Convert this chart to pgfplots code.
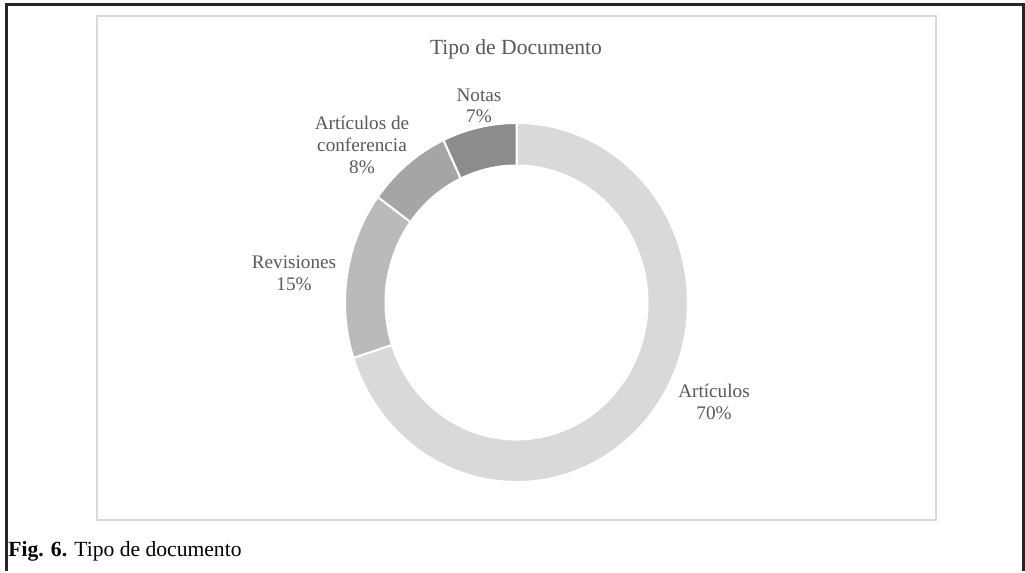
\documentclass[border=0pt]{standalone}
\usepackage{pgfplots}
\pgfplotsset{compat=1.18}
\usepackage{fontspec}
\setmainfont{Liberation Serif}

\definecolor{txtgray}{HTML}{595959}
\definecolor{frame}{HTML}{D9D9D9}
\definecolor{cArt}{HTML}{D9D9D9}
\definecolor{cRev}{HTML}{BABABA}
\definecolor{cConf}{HTML}{A5A5A5}
\definecolor{cNot}{HTML}{8C8C8C}

% share of each document type (%)
\def\vArt{70}
\def\vRev{15}
\def\vConf{8}
\def\vNot{7}

% donut slice: start angle, end angle, colour (radii in pt, 1 unit = 0.5pt)
\newcommand{\slice}[3]{%
  \fill[#3, draw=white, line width=1pt, shift={(axis cs:516.5,302.5)}]
    (#1:85.75pt and 89.75pt) arc[start angle=#1, end angle=#2, x radius=85.75pt, y radius=89.75pt]
    -- (#2:65.5pt and 68.5pt) arc[start angle=#2, end angle=#1, x radius=65.5pt, y radius=68.5pt]
    -- cycle;}

\begin{document}
\begin{tikzpicture}
\pgfmathsetmacro\aA{90}
\pgfmathsetmacro\aB{\aA-3.6*\vArt}
\pgfmathsetmacro\aC{\aB-3.6*\vRev}
\pgfmathsetmacro\aD{\aC-3.6*\vConf}
\pgfmathsetmacro\aE{\aD-3.6*\vNot}
\begin{axis}[
    scale only axis,
    width=512.5pt, height=285.5pt,
    xmin=0, xmax=1025, ymin=0, ymax=571,
    y dir=reverse,
    hide axis,
    clip=false,
]
\path (rel axis cs:0,0) rectangle (rel axis cs:1,1);
% outer and inner frames
\draw[line width=1.3pt, color=black!85] (axis cs:6.3,571) -- (axis cs:6.3,4.6) -- (axis cs:1023.6,4.6) -- (axis cs:1023.6,571);
\draw[line width=1pt, color=frame] (axis cs:96.7,16) rectangle (axis cs:936,520);

% donut slices
\slice{\aA}{\aB}{cArt}
\slice{\aB}{\aC}{cRev}
\slice{\aC}{\aD}{cConf}
\slice{\aD}{\aE}{cNot}

% title and labels
\node[txtgray, font=\fontsize{10.8}{12}\selectfont, anchor=base] at (axis cs:516,55) {Tipo de Documento};
\begin{scope}[every node/.style={txtgray, font=\fontsize{9.6}{10.8}\selectfont, align=center}]
\node at (axis cs:479,106) {Notas\\\vNot\%};
\node at (axis cs:362,145) {Artículos de\\conferencia\\\vConf\%};
\node at (axis cs:294,273) {Revisiones\\\vRev\%};
\node at (axis cs:714,402) {Artículos\\\vArt\%};
\end{scope}

% caption
\node[anchor=base west, inner sep=0pt, font=\fontsize{10.8}{12}\selectfont] at (axis cs:8,557) {\textbf{Fig. 6.} Tipo de documento};
\end{axis}
\end{tikzpicture}
\end{document}
